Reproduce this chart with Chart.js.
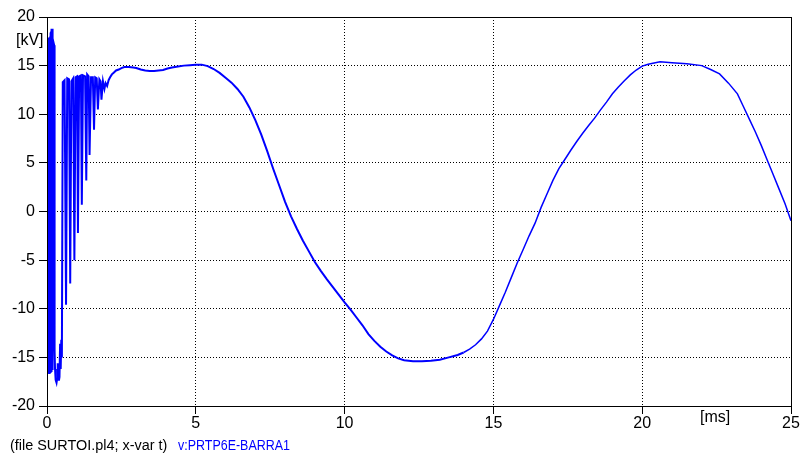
<!DOCTYPE html>
<html>
<head>
<meta charset="utf-8">
<script src="https://cdn.jsdelivr.net/npm/chart.js@4/dist/chart.umd.min.js"></script>
<style>
  html, body { margin: 0; padding: 0; background: #fff; }
  #wrap { position: relative; width: 801px; height: 455px; overflow: hidden; }
  #c { position: absolute; left: 0; top: 0; }
  .lbl { position: absolute; font-family: 'Liberation Sans', Arial, sans-serif; white-space: nowrap; }
  .unit { font-size: 16px; line-height: 16px; color: #000; }
  .foot { font-size: 14px; line-height: 14px; transform-origin: 0 0; }
</style>
</head>
<body>
<div id="wrap">
  <canvas id="c" width="801" height="455"></canvas>
  <span class="lbl unit" style="left:16px; top:32px;">[kV]</span>
  <span class="lbl unit" style="left:700px; top:409px;">[ms]</span>
  <span class="lbl foot" style="left:10px; top:438px; color:#000; transform:scaleX(1.03);">(file SURTOI.pl4; x-var t)</span>
  <span class="lbl foot" style="left:178px; top:438px; color:#0000ff; transform:scaleX(0.89);">v:PRTP6E-BARRA1</span>
</div>
<script>
// Time axis (ms) and bus voltage v:PRTP6E-BARRA1 (kV)
const timeMs = [
  0, 0.005, 0.01, 0.015, 0.02, 0.025, 0.03, 0.035, 0.04, 0.045,
  0.05, 0.055, 0.06, 0.065, 0.07, 0.075, 0.08, 0.085, 0.09, 0.095,
  0.1, 0.105, 0.11, 0.115, 0.12, 0.125, 0.13, 0.135, 0.14, 0.145,
  0.15, 0.155, 0.16, 0.165, 0.17, 0.175, 0.18, 0.185, 0.19, 0.195,
  0.2, 0.21, 0.22, 0.23, 0.24, 0.25, 0.26, 0.27, 0.28, 0.3,
  0.32, 0.34, 0.36, 0.38, 0.4, 0.42, 0.44, 0.46, 0.48, 0.5,
  0.53, 0.59, 0.64, 0.68, 0.74, 0.78, 0.82, 0.88, 0.92, 0.96,
  1.01, 1.04, 1.08, 1.14, 1.17, 1.21, 1.28, 1.32, 1.35, 1.4,
  1.43, 1.48, 1.54, 1.58, 1.62, 1.67, 1.71, 1.76, 1.8, 1.83,
  1.88, 1.93, 1.97, 2.02, 2.07, 2.12, 2.18, 2.25, 2.32, 2.41,
  2.5, 2.6, 2.75, 2.9, 3.0, 3.15, 3.3, 3.45, 3.6, 3.75,
  3.9, 4.05, 4.2, 4.4, 4.6, 4.8, 5.0, 5.2, 5.4, 5.6,
  5.8, 6.0, 6.2, 6.4, 6.6, 6.8, 7.0, 7.2, 7.4, 7.6,
  7.8, 8.0, 8.2, 8.4, 8.6, 8.8, 9.0, 9.2, 9.4, 9.6,
  9.8, 10.0, 10.2, 10.4, 10.6, 10.8, 11.0, 11.2, 11.4, 11.6,
  11.8, 12.0, 12.3, 12.6, 12.9, 13.2, 13.5, 13.8, 14.0, 14.2,
  14.4, 14.6, 14.8, 15.0, 15.2, 15.4, 15.6, 15.8, 16.0, 16.2,
  16.4, 16.6, 16.8, 17.0, 17.2, 17.4, 17.6, 17.8, 18.0, 18.2,
  18.4, 18.6, 18.8, 19.0, 19.2, 19.4, 19.6, 19.8, 20.0, 20.2,
  20.6, 21.0, 21.5, 22.0, 22.3, 22.6, 22.9, 23.2, 23.4, 23.6,
  23.8, 24.0, 24.2, 24.4, 24.6, 24.8, 25.0
];
const voltageKv = [
  0, 17.8, -16.3, 17.9, -16.5, 17.7, -16.4, 17.9, -16.6, 17.8,
  -16.5, 17.9, -16.4, 17.8, -16.6, 17.9, -16.5, 17.7, -16.4, 17.9,
  -16.6, 18.0, -16.5, 18.2, -16.4, 18.4, -16.6, 18.5, -16.5, 18.6,
  -16.3, 18.7, -16.4, 18.8, -16.2, 18.8, -15.8, 18.6, -16.0, 18.4,
  17.4, 17.3, 17.2, 17.3, 17.1, 16.9, -14.3, -16.2, -16.8, -17.3,
  -17.6, -17.2, -15.6, -16.8, -17.4, -17.0, -13.6, -16.2, -13.2, -15.0,
  13.3, 13.5, -9.6, 13.7, 13.6, -7.4, 13.4, 13.7, -5.0, 13.8,
  13.9, -2.2, 13.9, 14.0, 0.7, 14.0, 13.9, 3.2, 14.1, 13.9,
  5.8, 13.8, 13.8, 8.4, 13.8, 13.7, 10.5, 13.6, 13.4, 11.5,
  13.4, 12.6, 13.2, 12.9, 13.5, 13.8, 14.1, 14.3, 14.5, 14.6,
  14.75, 14.85, 14.85, 14.8, 14.75, 14.6, 14.5, 14.45, 14.45, 14.5,
  14.55, 14.7, 14.8, 14.9, 15.0, 15.05, 15.1, 15.1, 14.95, 14.65,
  14.25, 13.75, 13.25, 12.6, 11.8, 10.7, 9.4, 7.9, 6.2, 4.4,
  2.7, 1.0, -0.5, -1.8, -3.0, -4.1, -5.2, -6.1, -6.95, -7.75,
  -8.55, -9.35, -10.1, -10.9, -11.7, -12.6, -13.3, -13.9, -14.4, -14.8,
  -15.1, -15.3, -15.4, -15.4, -15.35, -15.25, -15.0, -14.75, -14.5, -14.15,
  -13.7, -13.1, -12.3, -11.1, -9.7, -8.3, -6.8, -5.3, -3.9, -2.5,
  -1.2, 0.4, 1.8, 3.2, 4.4, 5.35, 6.3, 7.2, 8.05, 8.85,
  9.6, 10.45, 11.25, 12.1, 12.8, 13.45, 14.05, 14.55, 14.95, 15.15,
  15.4, 15.3, 15.2, 15.0, 14.6, 14.15, 13.2, 12.1, 10.8, 9.5,
  8.2, 6.8, 5.3, 3.8, 2.3, 0.8, -0.95
];
const xTicks = [0, 5, 10, 15, 20, 25];
const yTicks = [-20, -15, -10, -5, 0, 5, 10, 15, 20];

const points = timeMs.map((t, i) => ({ x: t, y: voltageKv[i] }));
const tickFont = { family: "'Liberation Sans', Arial, sans-serif", size: 16 };

// Solid frame around the plotting area (top and right edges included)
const frame = {
  id: 'frame',
  afterDraw(chart) {
    const { ctx, chartArea: a } = chart;
    ctx.save();
    ctx.strokeStyle = '#000';
    ctx.lineWidth = 1;
    ctx.strokeRect(Math.round(a.left) + 0.5, Math.round(a.top) + 0.5,
                   Math.round(a.right - a.left), Math.round(a.bottom - a.top));
    ctx.restore();
  }
};

new Chart(document.getElementById('c'), {
  type: 'line',
  data: {
    datasets: [{
      data: points,
      borderColor: '#0000ff',
      borderWidth: 2,
      pointRadius: 0,
      tension: 0,
      fill: false,
      segment: {
        borderWidth: c => (c.p0.parsed.x >= 14 ? 1.5 : 2)
      }
    }]
  },
  options: {
    responsive: false,
    animation: false,
    events: [],
    layout: { padding: { top: 17, right: 10, left: 0, bottom: 0 } },
    plugins: { legend: { display: false }, tooltip: { enabled: false } },
    scales: {
      x: {
        type: 'linear',
        min: xTicks[0],
        max: xTicks[xTicks.length - 1],
        afterBuildTicks: s => { s.ticks = xTicks.map(v => ({ value: v })); },
        afterFit: s => { s.height = 49; },
        ticks: { color: '#000', font: tickFont, padding: 0, maxRotation: 0 },
        grid: { color: '#000', lineWidth: 1, tickLength: 8, tickColor: '#000' },
        border: { display: true, color: '#000', width: 1, dash: [1, 2] }
      },
      y: {
        type: 'linear',
        min: yTicks[0],
        max: yTicks[yTicks.length - 1],
        afterBuildTicks: s => { s.ticks = yTicks.map(v => ({ value: v })); },
        afterFit: s => { s.width = 47; },
        ticks: { color: '#000', font: tickFont, padding: 4 },
        grid: { color: '#000', lineWidth: 1, tickLength: 8, tickColor: '#000' },
        border: { display: true, color: '#000', width: 1, dash: [1, 2] }
      }
    }
  },
  plugins: [frame]
});
</script>
</body>
</html>
